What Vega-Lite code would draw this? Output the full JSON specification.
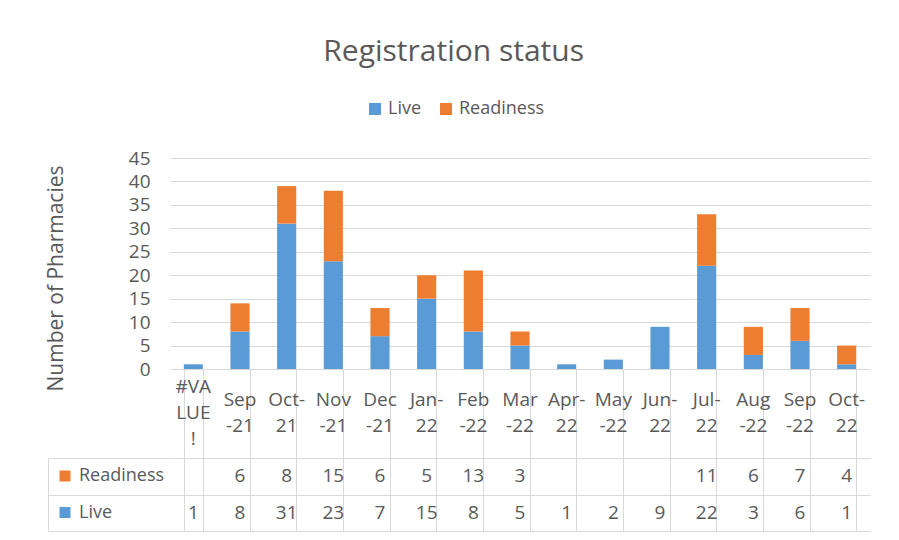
{
  "$schema": "https://vega.github.io/schema/vega-lite/v6.json",
  "padding": {"left": 45, "top": 37, "right": 27, "bottom": 9},
  "background": "white",
  "title": {"text": "Registration status", "fontSize": 30, "font": "Open Sans", "fontWeight": "normal", "color": "#595959", "anchor": "middle", "offset": 33, "dx": -4},
  "datasets": {
    "counts": [
      {"month": "#VALUE!", "series": "Live", "value": 1},
      {"month": "Sep-21", "series": "Live", "value": 8},
      {"month": "Sep-21", "series": "Readiness", "value": 6},
      {"month": "Oct-21", "series": "Live", "value": 31},
      {"month": "Oct-21", "series": "Readiness", "value": 8},
      {"month": "Nov-21", "series": "Live", "value": 23},
      {"month": "Nov-21", "series": "Readiness", "value": 15},
      {"month": "Dec-21", "series": "Live", "value": 7},
      {"month": "Dec-21", "series": "Readiness", "value": 6},
      {"month": "Jan-22", "series": "Live", "value": 15},
      {"month": "Jan-22", "series": "Readiness", "value": 5},
      {"month": "Feb-22", "series": "Live", "value": 8},
      {"month": "Feb-22", "series": "Readiness", "value": 13},
      {"month": "Mar-22", "series": "Live", "value": 5},
      {"month": "Mar-22", "series": "Readiness", "value": 3},
      {"month": "Apr-22", "series": "Live", "value": 1},
      {"month": "May-22", "series": "Live", "value": 2},
      {"month": "Jun-22", "series": "Live", "value": 9},
      {"month": "Jul-22", "series": "Live", "value": 22},
      {"month": "Jul-22", "series": "Readiness", "value": 11},
      {"month": "Aug-22", "series": "Live", "value": 3},
      {"month": "Aug-22", "series": "Readiness", "value": 6},
      {"month": "Sep-22", "series": "Live", "value": 6},
      {"month": "Sep-22", "series": "Readiness", "value": 7},
      {"month": "Oct-22", "series": "Live", "value": 1},
      {"month": "Oct-22", "series": "Readiness", "value": 4}
    ],
    "months": [
      {"month": "#VALUE!", "label": "#VA|LUE|!"},
      {"month": "Sep-21", "label": "Sep|-21"},
      {"month": "Oct-21", "label": "Oct-|21"},
      {"month": "Nov-21", "label": "Nov|-21"},
      {"month": "Dec-21", "label": "Dec|-21"},
      {"month": "Jan-22", "label": "Jan-|22"},
      {"month": "Feb-22", "label": "Feb|-22"},
      {"month": "Mar-22", "label": "Mar|-22"},
      {"month": "Apr-22", "label": "Apr-|22"},
      {"month": "May-22", "label": "May|-22"},
      {"month": "Jun-22", "label": "Jun-|22"},
      {"month": "Jul-22", "label": "Jul-|22"},
      {"month": "Aug-22", "label": "Aug|-22"},
      {"month": "Sep-22", "label": "Sep|-22"},
      {"month": "Oct-22", "label": "Oct-|22"}
    ],
    "keys": [
      {"series": "Readiness"},
      {"series": "Live"}
    ]
  },
  "spacing": 0,
  "bounds": "flush",
  "resolve": {"scale": {"x": "shared", "color": "independent"}, "legend": {"color": "independent"}},
  "config": {
    "font": "Open Sans",
    "view": {"stroke": null},
    "axis": {"labelColor": "#595959", "titleColor": "#595959", "gridColor": "#d9d9d9", "domainColor": "#d9d9d9", "tickColor": "#d9d9d9", "labelFont": "Open Sans", "titleFont": "Open Sans"},
    "legend": {"labelColor": "#595959", "labelFont": "Open Sans"}
  },
  "vconcat": [
    {
      "data": {"name": "counts"},
      "width": 700,
      "height": 211,
      "mark": {"type": "bar"},
      "encoding": {
        "x": {
          "field": "month", "type": "nominal",
          "sort": ["#VALUE!", "Sep-21", "Oct-21", "Nov-21", "Dec-21", "Jan-22", "Feb-22", "Mar-22", "Apr-22", "May-22", "Jun-22", "Jul-22", "Aug-22", "Sep-22", "Oct-22"],
          "scale": {"paddingInner": 0.59, "paddingOuter": 0.295},
          "axis": {"title": null, "labels": false, "ticks": false, "domain": true}
        },
        "y": {
          "field": "value", "type": "quantitative", "stack": "zero",
          "scale": {"domain": [0, 45], "nice": false},
          "axis": {"values": [0, 5, 10, 15, 20, 25, 30, 35, 40, 45], "title": "Number of Pharmacies", "titleFontSize": 21, "titleFontWeight": "normal", "titlePadding": 62, "titleY": 120, "labelFontSize": 19, "labelPadding": 20, "domain": false, "ticks": false, "grid": true}
        },
        "color": {
          "field": "series", "type": "nominal",
          "scale": {"domain": ["Live", "Readiness"], "range": ["#5b9bd5", "#ed7d31"]},
          "legend": {"orient": "none", "legendX": 196, "legendY": -58, "direction": "horizontal", "title": null, "symbolType": "square", "symbolSize": 144, "labelFontSize": 18, "columnPadding": 15, "labelOffset": 4}
        },
        "order": {"field": "series", "sort": "ascending"}
      }
    },
    {
      "data": {"name": "months"},
      "width": 700,
      "height": 89,
      "encoding": {
        "x": {
          "field": "month", "type": "nominal",
          "sort": ["#VALUE!", "Sep-21", "Oct-21", "Nov-21", "Dec-21", "Jan-22", "Feb-22", "Mar-22", "Apr-22", "May-22", "Jun-22", "Jul-22", "Aug-22", "Sep-22", "Oct-22"],
          "scale": {"paddingInner": 0.59, "paddingOuter": 0.295},
          "axis": {"title": null, "labels": false, "ticks": false, "domain": false, "grid": true, "tickBand": "extent"}
        },
        "text": {"field": "label", "type": "nominal"}
      },
      "layer": [
        {
          "transform": [{"filter": "datum.month != '#VALUE!'"}],
          "mark": {"type": "text", "fontSize": 19, "color": "#595959", "lineBreak": "|", "lineHeight": 26, "baseline": "middle", "dy": -13.5}
        },
        {
          "transform": [{"filter": "datum.month == '#VALUE!'"}],
          "mark": {"type": "text", "fontSize": 19, "color": "#595959", "lineBreak": "|", "lineHeight": 26, "baseline": "middle", "dy": -26.5}
        }
      ]
    },
    {
      "width": 700,
      "height": 73,
      "resolve": {"axis": {"y": "independent"}},
      "layer": [
        {
          "data": {"name": "counts"},
          "mark": {"type": "text", "fontSize": 19, "color": "#595959"},
          "encoding": {
            "x": {
              "field": "month", "type": "nominal",
              "sort": ["#VALUE!", "Sep-21", "Oct-21", "Nov-21", "Dec-21", "Jan-22", "Feb-22", "Mar-22", "Apr-22", "May-22", "Jun-22", "Jul-22", "Aug-22", "Sep-22", "Oct-22"],
              "scale": {"paddingInner": 0.59, "paddingOuter": 0.295},
              "axis": {"title": null, "labels": false, "ticks": false, "domain": false, "grid": true, "tickBand": "extent"}
            },
            "y": {
              "field": "series", "type": "nominal", "sort": ["Readiness", "Live"],
              "scale": {"paddingInner": 0, "paddingOuter": 0},
              "axis": {"title": null, "labels": false, "domain": false, "ticks": true, "tickSize": 122, "tickBand": "extent", "grid": true}
            },
            "text": {"field": "value", "type": "quantitative"}
          }
        },
        {
          "data": {"name": "keys"},
          "mark": {"type": "point", "shape": "square", "filled": true, "opacity": 0},
          "encoding": {
            "y": {
              "field": "series", "type": "nominal", "sort": ["Readiness", "Live"],
              "axis": {"orient": "left", "offset": 122, "title": null, "labels": false, "ticks": false, "grid": false, "domain": true}
            },
            "color": {
              "field": "series", "type": "nominal",
              "scale": {"domain": ["Live", "Readiness"], "range": ["#5b9bd5", "#ed7d31"]},
              "legend": {"orient": "none", "legendX": -114, "legendY": 9, "direction": "vertical", "title": null, "values": ["Readiness", "Live"], "symbolType": "square", "symbolSize": 121, "symbolOpacity": 1, "labelFontSize": 18, "rowPadding": 18.5, "labelOffset": 5}
            }
          }
        }
      ]
    }
  ]
}
